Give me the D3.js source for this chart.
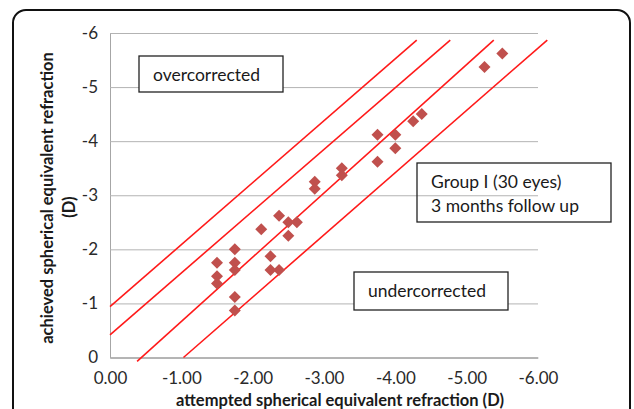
<!DOCTYPE html>
<html>
<head>
<meta charset="utf-8">
<script src="https://cdn.jsdelivr.net/npm/d3@7"></script>
<style>
  html, body { margin: 0; padding: 0; background: #fff; }
  svg { display: block; }
</style>
</head>
<body>
<script>
// attempted vs achieved spherical equivalent refraction (D)
var attempted = [-1.5, -1.5, -1.5, -1.75, -1.75, -1.75, -1.75, -1.75, -2.12, -2.25,
                 -2.25, -2.37, -2.37, -2.5, -2.62, -2.5, -2.87, -2.87, -3.25, -3.25,
                 -3.75, -4.0, -4.0, -3.75, -4.25, -4.37, -5.25, -5.5];
var achieved  = [-1.75, -1.5, -1.37, -2.0, -1.75, -1.62, -1.12, -0.87, -2.37, -1.87,
                 -1.62, -1.62, -2.62, -2.5, -2.5, -2.25, -3.25, -3.12, -3.5, -3.37,
                 -4.12, -4.12, -3.87, -3.62, -4.37, -4.5, -5.37, -5.62];

// the four red guide lines, start and end points [x, y]
var guideStart = [[0, -0.94], [0, -0.42], [-0.38, 0.07], [-1.03, 0]];
var guideEnd   = [[-4.30, -5.87], [-4.77, -5.87], [-5.38, -5.87], [-6.13, -5.87]];

var xTicks = [0, -1, -2, -3, -4, -5, -6];
var yTicks = [0, -1, -2, -3, -4, -5, -6];

var W = 634, H = 409;
var plot = { left: 110, right: 538, top: 33, bottom: 357.5 };
var font = 'Lato, "Open Sans", sans-serif';

// excel writes a plain hyphen, not the unicode minus d3 uses
var hyphen = function (fmt) {
    return function (d) { return fmt(d).replace('\u2212', '-'); };
};

var svg = d3.select('body').append('svg')
    .attr('width', W)
    .attr('height', H);

// outer frame
svg.append('rect')
    .attr('x', 13).attr('y', 10)
    .attr('width', 617).attr('height', 430)
    .attr('rx', 13).attr('ry', 13)
    .attr('fill', 'none')
    .attr('stroke', '#111')
    .attr('stroke-width', 2);

var x = d3.scaleLinear().domain([0, -6]).range([plot.left, plot.right]);
var y = d3.scaleLinear().domain([0, -6]).range([plot.bottom, plot.top]);

// horizontal gridlines
var yAxis = d3.axisLeft(y)
    .tickValues(yTicks)
    .tickSize(-(plot.right - plot.left))
    .tickPadding(12)
    .tickFormat(hyphen(d3.format('d')));

var gy = svg.append('g')
    .attr('transform', 'translate(' + plot.left + ',0)')
    .call(yAxis);
gy.select('.domain').attr('stroke', '#a6a6a6');
gy.selectAll('.tick line').attr('stroke', '#b3b3b3').attr('stroke-width', 1);
gy.selectAll('.tick text')
    .attr('font-family', font)
    .attr('font-size', 17)
    .attr('fill', '#2a2a2a');

var xAxis = d3.axisBottom(x)
    .tickValues(xTicks)
    .tickSize(0)
    .tickPadding(14)
    .tickFormat(hyphen(d3.format('.2f')));

var gx = svg.append('g')
    .attr('transform', 'translate(0,' + plot.bottom + ')')
    .call(xAxis);
gx.select('.domain').attr('stroke', '#a6a6a6');
gx.selectAll('.tick text')
    .attr('font-family', font)
    .attr('font-size', 17)
    .attr('fill', '#2a2a2a');

// text boxes (white filled ones sit under the data)
var drawBox = function (bx, by, bw, bh, lines, fill) {
    svg.append('rect')
        .attr('x', bx).attr('y', by)
        .attr('width', bw).attr('height', bh)
        .attr('fill', fill)
        .attr('stroke', '#222')
        .attr('stroke-width', 1.3);
    lines.forEach(function (t, i) {
        svg.append('text')
            .attr('x', bx + 14)
            .attr('y', by + 25 + i * 24)
            .attr('font-family', font)
            .attr('font-size', 17.5)
            .attr('fill', '#1a1a1a')
            .text(t);
    });
};

drawBox(139, 56, 144, 36, ['overcorrected'], '#fff');
drawBox(354, 272, 154, 38, ['undercorrected'], '#fff');
drawBox(417, 163, 194, 59, ['Group I (30 eyes)', '3 months follow up'], 'none');

// guide lines
svg.append('g').selectAll('line')
    .data(guideStart)
    .enter().append('line')
    .attr('x1', function (d) { return x(d[0]); })
    .attr('y1', function (d) { return y(d[1]); })
    .attr('x2', function (d, i) { return x(guideEnd[i][0]); })
    .attr('y2', function (d, i) { return y(guideEnd[i][1]); })
    .attr('stroke', '#ff1a1a')
    .attr('stroke-width', 1.6);

// data markers: squares turned 45deg
var diamond = d3.symbol().type(d3.symbolSquare).size(72);
svg.append('g').selectAll('path')
    .data(attempted)
    .enter().append('path')
    .attr('d', diamond)
    .attr('transform', function (d, i) {
        return 'translate(' + x(d) + ',' + y(achieved[i]) + ') rotate(45)';
    })
    .attr('fill', '#c0504d');

// axis titles
svg.append('text')
    .attr('x', 340)
    .attr('y', 406)
    .attr('text-anchor', 'middle')
    .attr('font-family', font)
    .attr('font-weight', 'bold')
    .attr('font-size', 16.5)
    .attr('fill', '#1a1a1a')
    .text('attempted spherical equivalent refraction (D)');

var yTitle = svg.append('text')
    .attr('transform', 'translate(53,198) rotate(-90)')
    .attr('text-anchor', 'middle')
    .attr('font-family', font)
    .attr('font-weight', 'bold')
    .attr('font-size', 16.5)
    .attr('fill', '#1a1a1a');
yTitle.append('tspan').attr('x', 0).attr('y', 0)
    .text('achieved spherical equivalent refraction');
yTitle.append('tspan').attr('x', -9).attr('y', 22)
    .text('(D)');
</script>
</body>
</html>
